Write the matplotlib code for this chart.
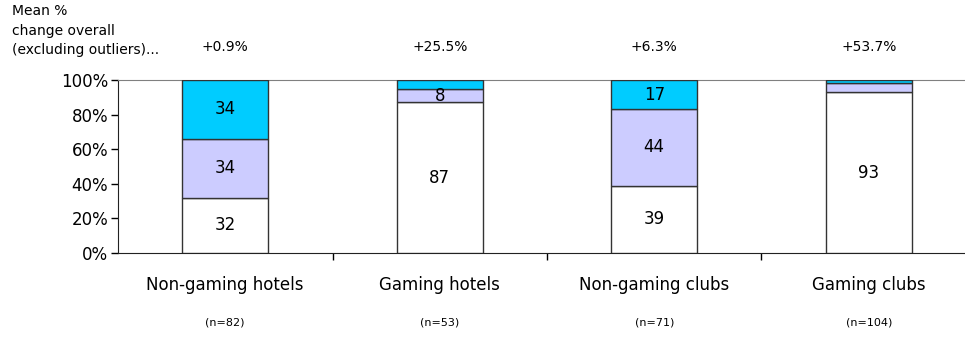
import matplotlib.pyplot as plt
import numpy as np

categories = ['Non-gaming hotels', 'Gaming hotels', 'Non-gaming clubs', 'Gaming clubs']
sample_sizes = ['(n=82)', '(n=53)', '(n=71)', '(n=104)']
mean_change = ['+0.9%', '+25.5%', '+6.3%', '+53.7%']

bottom_share = [32, 87, 39, 93]
middle_share = [34, 8, 44, 5]
top_share = [34, 5, 17, 2]

colors = ['#FFFFFF', '#CCCCFF', '#00CCFF']

fig = plt.figure(figsize=(9.65, 3.43), dpi=100)
ax = fig.add_axes([118/965, 90/343, 858/965, 173/343])

x = np.arange(len(categories))
base = np.zeros(len(categories))
for vals, col in zip([bottom_share, middle_share, top_share], colors):
    vals = np.array(vals, dtype=float)
    ax.bar(x, vals, width=0.40, bottom=base, color=col, edgecolor='#333333', linewidth=1.0, zorder=3)
    for xi, b, v in zip(x, base, vals):
        if v >= 8:
            ax.text(xi, b + v/2, '%d' % v, ha='center', va='center', fontsize=12, zorder=4)
    base += vals

ax.set_xlim(-0.5, 3.5)
ax.set_ylim(0, 100)
ax.set_yticks([0, 20, 40, 60, 80, 100])
ax.set_yticklabels(['0%', '20%', '40%', '60%', '80%', '100%'], fontsize=12)
ax.tick_params(axis='y', length=5, width=1, pad=2)

ax.set_xticks([0.5, 1.5, 2.5])
ax.set_xticklabels([])
ax.tick_params(axis='x', length=5, width=1, direction='out')

ax.spines['right'].set_visible(False)
ax.spines['top'].set_color('#808080')
ax.spines['left'].set_color('#222222')
ax.spines['bottom'].set_color('#222222')

tr = ax.get_xaxis_transform()
for xi, cat, n, ch in zip(x, categories, sample_sizes, mean_change):
    ax.text(xi, -0.185, cat, transform=tr, ha='center', va='center', fontsize=12)
    ax.text(xi, -0.40, n, transform=tr, ha='center', va='center', fontsize=8)
    ax.text(xi, 1.19, ch, transform=tr, ha='center', va='center', fontsize=10)

fig.text(12/965, 1 - 4/343, 'Mean %\nchange overall\n(excluding outliers)...',
         ha='left', va='top', fontsize=10, linespacing=1.5)

fig.savefig('out.png', dpi=100)
